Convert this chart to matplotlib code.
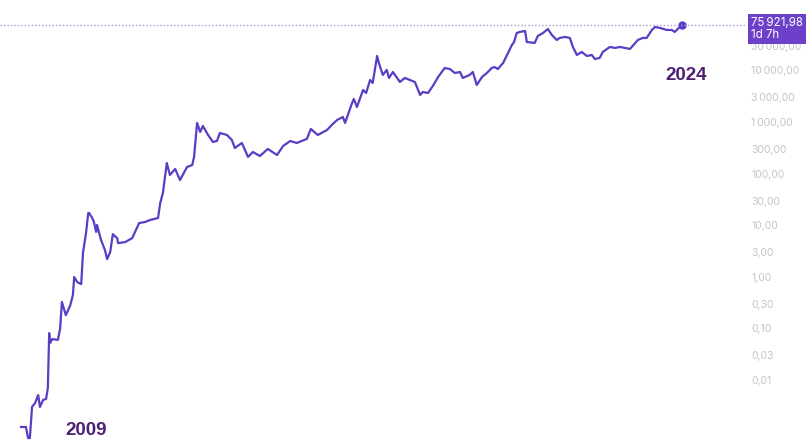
import matplotlib
matplotlib.use("Agg")
import matplotlib.pyplot as plt

# Bitcoin price history (decimal year, USD)
years = [2009.80, 2009.91, 2009.96, 2010.00, 2010.05, 2010.12, 2010.19, 2010.23, 2010.30, 2010.37,
         2010.41, 2010.44, 2010.46, 2010.51, 2010.64, 2010.69, 2010.73, 2010.82, 2010.92, 2010.98,
         2011.01, 2011.08, 2011.17, 2011.21, 2011.28, 2011.33, 2011.35, 2011.42, 2011.46, 2011.51,
         2011.53, 2011.62, 2011.71, 2011.76, 2011.83, 2011.89, 2011.99, 2012.01, 2012.17, 2012.33,
         2012.49, 2012.62, 2012.74, 2012.92, 2012.97, 2013.03, 2013.12, 2013.19, 2013.31, 2013.42,
         2013.58, 2013.70, 2013.74, 2013.81, 2013.88, 2013.94, 2014.06, 2014.17, 2014.26, 2014.33,
         2014.49, 2014.60, 2014.67, 2014.83, 2014.97, 2015.08, 2015.24, 2015.42, 2015.63, 2015.77,
         2015.93, 2016.08, 2016.31, 2016.40, 2016.56, 2016.77, 2016.90, 2017.00, 2017.13, 2017.18,
         2017.34, 2017.38, 2017.45, 2017.59, 2017.66, 2017.75, 2017.81, 2017.91, 2017.95, 2018.04,
         2018.13, 2018.18, 2018.27, 2018.43, 2018.54, 2018.77, 2018.89, 2018.95, 2019.07, 2019.18,
         2019.30, 2019.45, 2019.57, 2019.68, 2019.80, 2019.86, 2020.02, 2020.09, 2020.18, 2020.30,
         2020.41, 2020.52, 2020.59, 2020.66, 2020.78, 2020.89, 2020.98, 2021.03, 2021.09, 2021.16,
         2021.28, 2021.32, 2021.50, 2021.57, 2021.69, 2021.80, 2021.89, 2022.00, 2022.07, 2022.19,
         2022.30, 2022.37, 2022.46, 2022.57, 2022.69, 2022.80, 2022.87, 2022.98, 2023.05, 2023.21,
         2023.33, 2023.44, 2023.55, 2023.67, 2023.85, 2023.96, 2024.05, 2024.17, 2024.24, 2024.35,
         2024.51, 2024.62, 2024.69, 2024.85]
prices = [0.00123, 0.00123, 0.00075, 0.00075, 0.0030, 0.0036, 0.0051, 0.0030, 0.0041, 0.0043,
          0.0070, 0.081, 0.052, 0.062, 0.060, 0.10, 0.325, 0.18, 0.28, 0.44,
          0.99, 0.79, 0.72, 2.9, 7.1, 17.2, 17.2, 13.8, 11.5, 7.4,
          10.1, 5.2, 3.3, 2.2, 3.0, 6.7, 5.6, 4.5, 4.7, 5.6,
          11.0, 11.5, 12.6, 13.8, 26.9, 42, 160, 94, 123, 75,
          134, 147, 210, 957, 640, 836, 560, 410, 428, 612,
          560, 448, 313, 392, 210, 262, 219, 300, 229, 343,
          428, 392, 469, 731, 560, 700, 915, 1094, 1250, 957,
          2335, 2790, 1950, 4170, 3650, 6510, 5700, 19000, 13900, 8150,
          10200, 7130, 9300, 5960, 7130, 5960, 3340, 3810, 3650, 4990,
          7450, 11100, 10600, 8900, 9300, 7130, 8150, 9300, 5210, 7450,
          8900, 11100, 11600, 10600, 13900, 21700, 31000, 35500, 53000, 55500,
          58000, 35500, 34000, 46400, 53000, 63400, 48500, 38800, 42500, 44400,
          42500, 28400, 19900, 22700, 19000, 19900, 16600, 17400, 22700, 28400,
          27200, 28400, 27200, 26000, 38800, 42500, 42500, 60700, 69300, 66400,
          60700, 60700, 55500, 75921.98]

last_price = prices[-1]
price_label = "75\u2009921,98\n1d 7h"
tick_values = [100000, 30000, 10000, 3000, 1000, 300, 100, 30, 10, 3, 1, 0.3, 0.1, 0.03, 0.01]
tick_labels = ["100\u2009000,00", "30\u2009000,00", "10\u2009000,00", "3\u2009000,00", "1\u2009000,00",
               "300,00", "100,00", "30,00", "10,00", "3,00", "1,00", "0,30", "0,10", "0,03", "0,01"]

line_color = "#5b3cc4"
year_color = "#4f1f73"

plt.rcParams['font.family'] = ['Inter', 'DejaVu Sans']

fig = plt.figure(figsize=(8.08, 4.46), dpi=100)
ax = fig.add_axes([0, 0, 745 / 808, 1])

ax.plot(years, prices, color=line_color, lw=1.6, solid_joinstyle='round')
ax.plot(years[-1], prices[-1], 'o', color=line_color, ms=5)
ax.axhline(last_price, color="#a89ed8", lw=1, ls=(0, (1, 1.5)))

ax.set_yscale('log')
ax.set_xlim(2009.32, 2026.29)
ax.set_ylim(0.000526, 231000)

ax.set_yticks(tick_values)
ax.set_yticklabels(tick_labels)
ax.minorticks_off()
ax.yaxis.tick_right()
ax.tick_params(axis='y', length=0, pad=4.5, labelsize=7.5, labelcolor="#c4c4c4")
ax.set_xticks([])
for s in ax.spines.values():
    s.set_visible(False)

ax.text(2010.80, 0.00103, "2009", fontsize=13.5, fontweight='bold', color=year_color,
        family=['Liberation Sans', 'DejaVu Sans'], ha='left', va='center')
ax.text(2024.47, 7780, "2024", fontsize=13.5, fontweight='bold', color=year_color,
        family=['Liberation Sans', 'DejaVu Sans'], ha='left', va='center')

ax.annotate(price_label, xy=(1.0, last_price), xycoords=('axes fraction', 'data'),
            xytext=(6, -4), textcoords='offset pixels', ha='left', va='center',
            fontsize=8.3, color='white', linespacing=1.0, annotation_clip=False,
            bbox=dict(boxstyle='square,pad=0.28', fc="#6c40c9", ec='none'), zorder=5)

fig.savefig("out.png", dpi=100)
